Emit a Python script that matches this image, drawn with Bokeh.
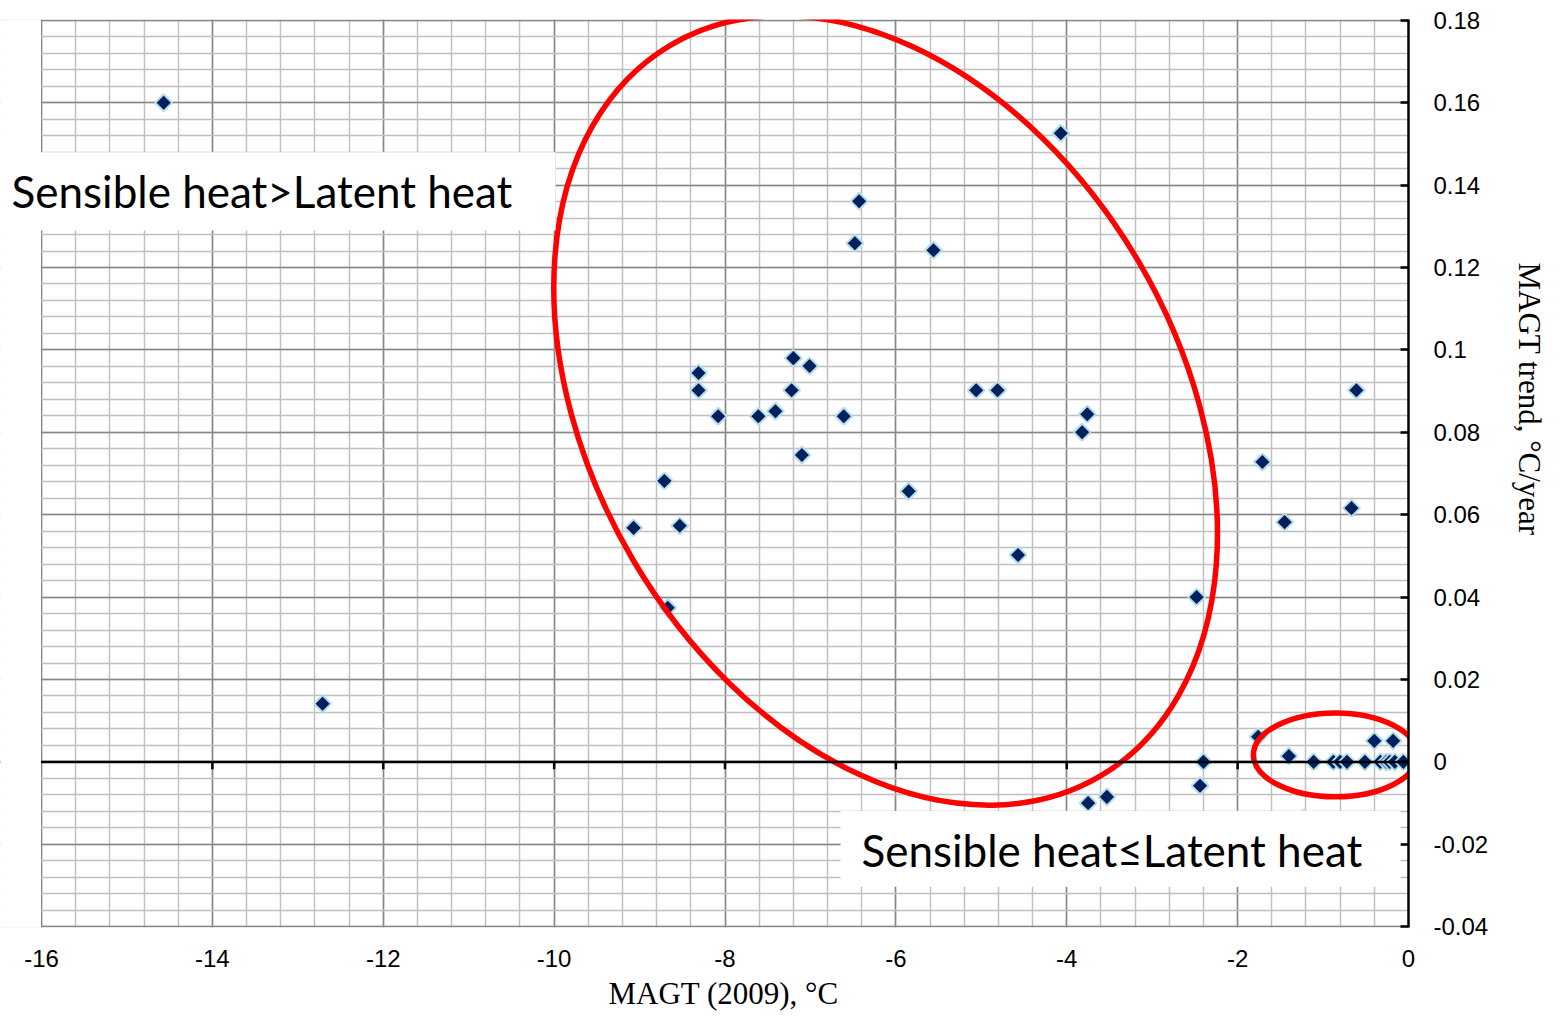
import numpy as np
from bokeh.plotting import figure
from bokeh.models import (Range1d, FixedTicker, Span, Label, BoxAnnotation, ColumnDataSource, Title)
from bokeh.embed import file_html
from bokeh.resources import INLINE

# ---- data ----
magt_2009 = [-14.57, -12.71, -4.07, -6.43, -6.48, -5.56, -8.31, -8.31, -7.20, -7.01,
             -7.22, -8.08, -7.61, -7.41, -6.61, -7.10, -5.06, -4.81, -3.76, -3.82,
             -8.71, -5.85, -9.07, -8.53, -8.67, -4.57, -2.48, -1.71, -1.45, -0.61,
             -0.667, -1.76, -2.40, -2.44, -3.75, -3.53, -1.23, -1.40, -1.11, -0.88,
             -0.80, -0.72, -0.51, -0.33, -0.26, -0.22, -0.16, -0.06, -0.40, -0.18]
magt_trend = [0.160, 0.0141, 0.1526, 0.1361, 0.1259, 0.1242, 0.0944, 0.0902, 0.098, 0.0961,
              0.0902, 0.0839, 0.0839, 0.0851, 0.0839, 0.0745, 0.0902, 0.0902, 0.0844, 0.080,
              0.0682, 0.0657, 0.0568, 0.0573, 0.0374, 0.0502, 0.040, 0.0728, 0.0582, 0.0902,
              0.0616, 0.0061, 0.0, -0.0058, -0.0100, -0.0085, -0.0136, 0.0014, 0.0, 0.0,
              0.0, 0.0, 0.0, 0.0, 0.0, 0.0, 0.0, 0.0, 0.0051, 0.0051]

x_ticks = [-16, -14, -12, -10, -8, -6, -4, -2, 0]
x_tick_labels = ["-16", "-14", "-12", "-10", "-8", "-6", "-4", "-2", "0"]
y_ticks = [-0.04, -0.02, 0.0, 0.02, 0.04, 0.06, 0.08, 0.1, 0.12, 0.14, 0.16, 0.18]
y_tick_labels = ["-0.04", "-0.02", "0", "0.02", "0.04", "0.06", "0.08", "0.1",
                 "0.12", "0.14", "0.16", "0.18"]

x_title = "MAGT (2009), \u00b0C"
y_title = "MAGT trend, \u00b0C/year"
note_upper = "Sensible heat>Latent heat"
note_lower = "Sensible heat\u2264Latent heat"

# highlight ellipses: centre (data), size (screen px), angle (deg)
big_ellipse = dict(x=-6.12, y=0.0853, w=848, h=587, angle=-59.6)
small_ellipse = dict(x=-0.855, y=0.0017, w=164, h=84, angle=0.0)

X_MIN, X_MAX = -16, 0
Y_MIN, Y_MAX = -0.04, 0.18
LEFT_PAD = -16.48  # white margin left of the plot area (room for the note box)

# ---- figure ----
p = figure(width=1566, height=1017, output_backend="svg", toolbar_location=None,
           x_range=Range1d(LEFT_PAD, X_MAX), y_range=Range1d(Y_MIN - 0.0002, Y_MAX + 0.0002),
           y_axis_location="right",
           min_border_left=0, min_border_right=158, min_border_top=19, min_border_bottom=90)
p.title.visible = False
p.background_fill_color = "white"
p.border_fill_color = "white"
p.outline_line_color = None

x_minor = [float(v) for v in np.round(np.arange(X_MIN, X_MAX + 0.001, 0.4), 4)]
y_minor = [float(v) for v in np.round(np.arange(Y_MIN, Y_MAX + 0.0001, 0.004), 4)]
xt = FixedTicker(ticks=x_ticks, minor_ticks=x_minor)
yt = FixedTicker(ticks=y_ticks, minor_ticks=y_minor)

p.xaxis.ticker = xt
p.yaxis.ticker = yt
p.xgrid.ticker = xt
p.ygrid.ticker = yt
for g in (p.xgrid, p.ygrid):
    g.grid_line_color = "#878787"
    g.grid_line_width = 1.5
    g.minor_grid_line_color = "#C0C0C0"
    g.minor_grid_line_width = 1.5
    g.level = "underlay"

# bottom axis: labels only
xa = p.xaxis[0]
xa.axis_line_color = None
xa.major_tick_line_color = None
xa.minor_tick_line_color = None
xa.major_tick_in = 0
xa.major_tick_out = 0
xa.minor_tick_out = 0
xa.major_label_overrides = {t: l for t, l in zip(x_ticks, x_tick_labels)}
xa.major_label_text_font = "Liberation Sans"
xa.major_label_text_font_size = "24px"
xa.major_label_text_color = "black"
xa.major_label_standoff = 22

# right axis at x = 0
ya = p.yaxis[0]
ya.axis_line_color = "black"
ya.axis_line_width = 2.5
ya.major_tick_line_color = "black"
ya.major_tick_line_width = 2.5
ya.major_tick_in = 8
ya.major_tick_out = 0
ya.minor_tick_line_color = None
ya.major_label_overrides = {t: l for t, l in zip(y_ticks, y_tick_labels)}
ya.major_label_text_font = "Liberation Sans"
ya.major_label_text_font_size = "24px"
ya.major_label_text_color = "black"
ya.major_label_standoff = 21

# axis titles
p.add_layout(Title(text=y_title, align="left", offset=243, standoff=36, vertical_align="top",
                   text_font="Liberation Serif", text_font_size="31px",
                   text_font_style="normal", text_color="black"), "right")
p.add_layout(Title(text=x_title, align="left", offset=608, standoff=8,
                   text_font="Liberation Serif", text_font_size="31px",
                   text_font_style="normal", text_color="black"), "below")

# horizontal axis line at y = 0 with ticks
p.add_layout(Span(location=0, dimension="width", line_color="black", line_width=2.5))
tick_len = 0.0018
p.segment(x0=x_ticks[1:-1], y0=[0] * (len(x_ticks) - 2), x1=x_ticks[1:-1],
          y1=[-tick_len] * (len(x_ticks) - 2), line_color="black", line_width=2.5)

# points
src = ColumnDataSource(dict(x=magt_2009, y=magt_trend))
p.scatter("x", "y", source=src, marker="square", size=12, angle=np.pi / 4,
          fill_color="#002060", line_color="#B7DEE8", line_width=2)

# ellipses
for e in (big_ellipse, small_ellipse):
    p.ellipse(x=[e["x"]], y=[e["y"]], width=[e["w"]], height=[e["h"]],
              width_units="screen", height_units="screen",
              angle=np.deg2rad(e["angle"]), fill_color=None,
              line_color="#FF0000", line_width=5.5)

# white strip left of the plot area
p.add_layout(BoxAnnotation(left=LEFT_PAD - 1, right=X_MIN - 0.006, top=Y_MAX + 0.01,
                           bottom=Y_MIN - 0.01, fill_color="white", fill_alpha=1.0,
                           line_color=None))

# text boxes
p.add_layout(BoxAnnotation(left=LEFT_PAD - 1, right=-9.984, top=0.148, bottom=0.129,
                           fill_color="white", fill_alpha=1.0, line_color=None))
p.add_layout(BoxAnnotation(left=-6.648, right=-0.094, top=-0.0119, bottom=-0.0303,
                           fill_color="white", fill_alpha=1.0, line_color=None))
p.add_layout(Label(x=-16.351, y=0.1385, text=note_upper, text_font="Lato",
                   text_font_size="44px", text_color="black", text_baseline="alphabetic"))
p.add_layout(Label(x=-6.403, y=-0.0215, text=note_lower, text_font="Lato",
                   text_font_size="44px", text_color="black", text_baseline="alphabetic"))

open("out.html", "w").write(file_html(p, INLINE))
